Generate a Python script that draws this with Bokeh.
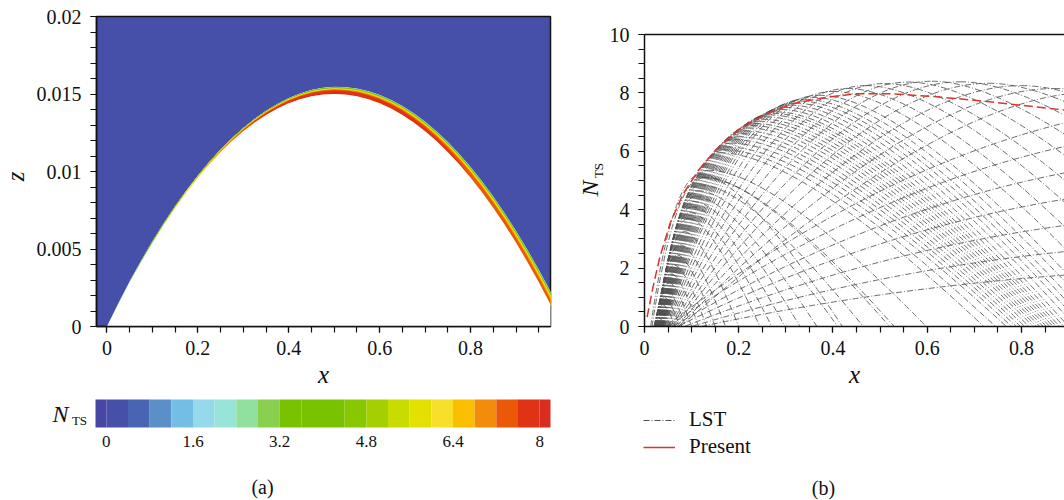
import numpy as np
from bokeh.plotting import figure
from bokeh.layouts import row, column
from bokeh.models import (Range1d, FixedTicker, NumeralTickFormatter, Label,
                          Legend, LegendItem, LinearAxis)
from bokeh.core.properties import value
from bokeh.embed import file_html
from bokeh.resources import INLINE

FONT = "Liberation Serif"

# ---------------- panel (a): N_TS contour above the surface ----------------
surf_x = [0.0, 0.025, 0.05, 0.075, 0.1, 0.125, 0.15, 0.175, 0.2, 0.225, 0.25,
          0.275, 0.3, 0.325, 0.35, 0.375, 0.4, 0.425, 0.45, 0.475, 0.5, 0.525,
          0.55, 0.575, 0.6, 0.625, 0.65, 0.675, 0.7, 0.725, 0.75, 0.775, 0.8,
          0.825, 0.85, 0.875, 0.9, 0.925, 0.95, 0.975, 1.0]
surf_z = [0.0, 0.00146, 0.00285, 0.00416, 0.0054, 0.00656, 0.00765, 0.00866,
          0.0096, 0.01046, 0.01125, 0.01196, 0.0126, 0.01316, 0.01365, 0.01406,
          0.0144, 0.01466, 0.01485, 0.01496, 0.015, 0.01496, 0.01485, 0.01466,
          0.0144, 0.01406, 0.01365, 0.01316, 0.0126, 0.01196, 0.01125, 0.01046,
          0.0096, 0.00866, 0.00765, 0.00656, 0.0054, 0.00416, 0.00285, 0.00146, 0.0]
wall_n = [0.0, 1.8, 3.3, 4.2, 4.85, 5.4, 5.9, 6.3, 6.65, 6.9, 7.15, 7.35, 7.55,
          7.7, 7.8, 7.85, 7.9, 7.95, 8.0, 8.02, 8.02, 8.02, 8.0, 7.95, 7.9, 7.86,
          7.82, 7.78, 7.74, 7.7, 7.66, 7.62, 7.58, 7.54, 7.5, 7.46, 7.42, 7.38,
          7.34, 7.3, 7.26]
layer_dz = [0.00002, 0.00004, 0.00006, 0.00008, 0.0001, 0.00011, 0.00012, 0.00013,
            0.00014, 0.00016, 0.00018, 0.0002, 0.00022, 0.00025, 0.00028, 0.00031,
            0.00035, 0.00039, 0.00043, 0.00046, 0.00048, 0.0005, 0.00052, 0.00054,
            0.00056, 0.00058, 0.0006, 0.00062, 0.00064, 0.00066, 0.00068, 0.0007,
            0.00072, 0.00074, 0.00076, 0.00078, 0.0008, 0.00082, 0.00085, 0.00088, 0.0009]

levels = [0.0, 0.4, 0.8, 1.2, 1.6, 2.0, 2.4, 2.8, 3.2, 3.6, 4.0, 4.4, 4.8, 5.2,
          5.6, 6.0, 6.4, 6.8, 7.2, 7.6, 8.0]
band_colors = ["#4646A3", "#4650A8", "#4865B3", "#5A8FC8", "#72BFE3", "#95D9EA",
               "#97E5D8", "#90E0A0", "#88D04E", "#78C200", "#78C200", "#78C200",
               "#88C800", "#A4D000", "#C8DC00", "#E4E000", "#F8E02A", "#FAC000",
               "#F28C0A", "#EA5808", "#E03214", "#D82D20"]
cbar_ticks = [0, 1.6, 3.2, 4.8, 6.4, 8]
cbar_labels = ["0", "1.6", "3.2", "4.8", "6.4", "8"]

# ---------------- panel (b): N factor curves ----------------
present_x = [0.0055, 0.018, 0.0325, 0.054, 0.082, 0.114, 0.153, 0.202, 0.259,
             0.315, 0.386, 0.45, 0.52, 0.612, 0.718, 0.803, 0.888, 0.95]
present_n = [0.32, 1.35, 2.37, 3.52, 4.54, 5.34, 6.08, 6.77, 7.28, 7.63, 7.85,
             7.97, 7.97, 7.88, 7.72, 7.57, 7.42, 7.32]

lst_start = [0.020, 0.020, 0.021, 0.021, 0.022, 0.022, 0.023, 0.023, 0.024, 0.024,
             0.025, 0.026, 0.0265, 0.027, 0.0275, 0.028, 0.0285, 0.029, 0.0295,
             0.030, 0.013, 0.016,
             0.030, 0.0305, 0.031, 0.0315, 0.032, 0.0325, 0.033, 0.0335, 0.034,
             0.0345, 0.035, 0.0355, 0.036, 0.0365, 0.037, 0.0375, 0.038, 0.0385,
             0.039, 0.0395, 0.040, 0.041, 0.042, 0.043, 0.044, 0.046, 0.048, 0.050,
             0.052, 0.055, 0.058, 0.061, 0.064, 0.068, 0.072, 0.076]
lst_peak_x = [0.031, 0.035, 0.039, 0.043, 0.048, 0.053, 0.058, 0.064, 0.070, 0.076,
              0.085, 0.093, 0.097, 0.100, 0.104, 0.108, 0.113, 0.118, 0.126,
              0.135, 0.118, 0.124,
              0.160, 0.168, 0.175, 0.183, 0.190, 0.198, 0.205, 0.213, 0.220,
              0.228, 0.235, 0.243, 0.250, 0.258, 0.265, 0.273, 0.280, 0.290,
              0.300, 0.310, 0.320, 0.330, 0.340, 0.355, 0.370, 0.400, 0.430, 0.470,
              0.510, 0.560, 0.610, 0.670, 0.730, 0.800, 0.870, 0.950]
lst_peak_n = [0.28, 0.50, 0.75, 1.0, 1.25, 1.5, 1.8, 2.1, 2.45, 2.8,
              3.25, 3.7, 3.9, 4.1, 4.28, 4.45, 4.65, 4.85, 5.1,
              5.35, 5.2, 5.12,
              5.95, 6.05, 6.15, 6.28, 6.40, 6.50, 6.60, 6.70, 6.80,
              6.88, 6.95, 7.03, 7.10, 7.18, 7.25, 7.30, 7.35, 7.43,
              7.50, 7.58, 7.65, 7.72, 7.78, 7.85, 7.92, 8.05, 8.15, 8.25,
              8.32, 8.37, 8.40, 8.38, 8.33, 8.25, 8.15, 8.02]
lst_end = [0.048, 0.056, 0.065, 0.075, 0.087, 0.100, 0.115, 0.132, 0.150, 0.172,
           0.200, 0.245, 0.270, 0.298, 0.330, 0.366, 0.410, 0.464, 0.530,
           0.598, 0.42, 0.52,
           0.720, 0.745, 0.768, 0.779, 0.789, 0.798, 0.807, 0.816, 0.825,
           0.832, 0.839, 0.846, 0.853, 0.860, 0.867, 0.874, 0.881, 0.890,
           0.900, 0.915, 0.930, 0.945, 0.960, 0.980, 1.00, 1.05, 1.10, 1.16,
           1.22, 1.30, 1.38, 1.47, 1.56, 1.66, 1.76, 1.88]

riser_start = [0.045, 0.050, 0.060, 0.070, 0.085, 0.100, 0.120]
riser_peak_x = [1.3, 1.3, 1.3, 1.3, 1.3, 1.3, 1.3]
riser_peak_n = [7.8, 6.9, 5.9, 4.9, 3.9, 2.9, 2.0]

INK = "#111111"
TOP_H = 396          # height of the two plot rows
STRIP_H = 500 - TOP_H


def style_axes(p, size="20px"):
    for ax in p.axis:
        ax.axis_line_width = 1.5
        ax.axis_line_color = INK
        ax.major_tick_line_color = INK
        ax.minor_tick_line_color = INK
        ax.major_tick_line_width = 1.2
        ax.minor_tick_line_width = 1.2
        ax.major_tick_in = 0
        ax.major_tick_out = 6
        ax.minor_tick_in = 0
        ax.minor_tick_out = 6
        ax.major_label_text_font = FONT
        ax.major_label_text_font_size = size
        ax.major_label_text_color = INK
        ax.axis_label_text_font = FONT
        ax.axis_label_text_font_size = "25px"
        ax.axis_label_text_font_style = "italic"
        ax.axis_label_text_color = INK
    p.xaxis.major_label_standoff = 8
    p.yaxis.major_label_standoff = 9
    p.xaxis.axis_label_standoff = 3
    p.xgrid.visible = False
    p.ygrid.visible = False


def add_label(p, x, y, text, size="20px", style="normal"):
    p.add_layout(Label(x=x, y=y, x_units="screen", y_units="screen", text=text,
                       text_font=FONT, text_font_size=size, text_font_style=style,
                       text_align="center", text_baseline="middle",
                       text_color=INK))


def blank_fig(w, h, xr=(0, 1), yr=(0, 1)):
    f = figure(width=w, height=h, x_range=Range1d(*xr), y_range=Range1d(*yr),
               output_backend="svg", toolbar_location=None, title=None,
               x_axis_location=None, y_axis_location=None, min_border=0)
    f.outline_line_color = None
    f.grid.visible = False
    return f


def rotated_text(p, x, y, text, size, style="normal"):
    p.text(x=[x], y=[y], text=[text], angle=np.pi / 2, text_font=value(FONT),
           text_font_size=size, text_font_style=style, text_align="center",
           text_baseline="middle", text_color=INK)


# ---- label strip left of panel (a); its frame is aligned with the plot frame
LAB_A_W = 30
lab_a = blank_fig(LAB_A_W, TOP_H, xr=(0, LAB_A_W), yr=(326, 16))
rotated_text(lab_a, 15, 176, "z", "25px", "italic")

# ---- panel (a)
pa = figure(width=555 - LAB_A_W, height=TOP_H, x_range=Range1d(-0.0229, 0.9758),
            y_range=Range1d(0, 0.02), output_backend="svg", toolbar_location=None,
            title=None, min_border_left=96 - LAB_A_W, min_border_right=5,
            min_border_top=16, min_border_bottom=TOP_H - 326)
pa.background_fill_color = band_colors[1]
pa.outline_line_color = INK
pa.outline_line_width = 1.5

sz = np.array(surf_z)
nw = np.array(wall_n)
dz = np.array(layer_dz)
for k in range(1, len(levels)):
    frac = np.where(nw > levels[k], 1.0 - levels[k] / np.maximum(nw, 1e-9), 0.0)
    top = sz + dz * np.clip(frac, 0, 1) ** 0.25
    pa.varea(x=surf_x, y1=surf_z, y2=top, fill_color=band_colors[k + 1])
pa.varea(x=surf_x, y1=[0.0] * len(surf_x), y2=surf_z, fill_color="white")

pa.xaxis.ticker = FixedTicker(ticks=[0, 0.2, 0.4, 0.6, 0.8],
                              minor_ticks=[0.05 * i for i in range(20)])
pa.xaxis.formatter = NumeralTickFormatter(format="0.[0]")
pa.yaxis.ticker = FixedTicker(ticks=[0, 0.005, 0.01, 0.015, 0.02],
                              minor_ticks=[0.001 * i for i in range(21)])
pa.yaxis.formatter = NumeralTickFormatter(format="0.[000]")
style_axes(pa)
pa.xaxis.axis_label = "x"

# ---- colour bar strip (bar, N_TS, (a))
span = 8.4 / 455.0
pc = blank_fig(555, STRIP_H, xr=(-0.2 - 95 * span, 8.2 + 5 * span), yr=(STRIP_H, 0))
cb_left = [-0.2] + levels
cb_right = levels + [8.2]
pc.quad(left=cb_left, right=cb_right, bottom=31, top=3, fill_color=band_colors,
        line_color=None)
pc.text(x=cbar_ticks, y=[45] * len(cbar_ticks), text=cbar_labels,
        text_font=value(FONT), text_font_size="17px", text_align="center",
        text_baseline="middle", text_color=INK)
add_label(pc, 60, STRIP_H - 17, "N", size="24px", style="italic")
add_label(pc, 79, STRIP_H - 24, "TS", size="13px")
add_label(pc, 262, STRIP_H - 90, "(a)", size="20px")

# ---- label strip left of panel (b); frame aligned with the plot frame
lab_b = blank_fig(50, TOP_H, xr=(0, 50), yr=(326, 34))
rotated_text(lab_b, 34, 188, "N", "24px", "italic")
rotated_text(lab_b, 43, 170, "TS", "13px")

# ---- panel (b)
pb = figure(width=459, height=TOP_H, x_range=Range1d(0, 0.8913), y_range=Range1d(0, 10),
            output_backend="svg", toolbar_location=None, title=None,
            min_border_left=39, min_border_right=0, min_border_top=34,
            min_border_bottom=TOP_H - 326)
pb.outline_line_color = None

LST_COLOR = "#505050"
LST_DASH = "6 2 1 2"
LST_W = 0.85
xs = np.array(lst_start)
xp = np.array(lst_peak_x)
npk = np.array(lst_peak_n)
xe = np.array(lst_end)
kr = np.clip(0.45 + 0.25 * (xp - 0.16), 0.45, 0.65)
pb.quadratic(x0=xs, y0=np.zeros_like(xs), x1=xp, y1=npk, cx=xs + kr * (xp - xs),
             cy=npk, line_color=LST_COLOR, line_width=LST_W, line_dash=LST_DASH)
pb.quadratic(x0=xp, y0=npk, x1=xe, y1=np.zeros_like(xe), cx=xp + 0.3 * (xe - xp),
             cy=npk, line_color=LST_COLOR, line_width=LST_W, line_dash=LST_DASH)
rs = np.array(riser_start)
rp = np.array(riser_peak_x)
rn = np.array(riser_peak_n)
pb.quadratic(x0=rs, y0=np.zeros_like(rs), x1=rp, y1=rn, cx=rs + 0.5 * (rp - rs),
             cy=rn, line_color=LST_COLOR, line_width=LST_W, line_dash=LST_DASH)

pb.line(present_x, present_n, line_color="#D9352A", line_width=1.5, line_dash="9 4")

bottom_ax = pb.below[0]
bottom_ax.ticker = FixedTicker(ticks=[0, 0.2, 0.4, 0.6, 0.8],
                               minor_ticks=[0.05 * i for i in range(20)])
bottom_ax.formatter = NumeralTickFormatter(format="0.[0]")
pb.yaxis.ticker = FixedTicker(ticks=[0, 2, 4, 6, 8, 10],
                              minor_ticks=[0.5 * i for i in range(21)])
pb.yaxis.formatter = NumeralTickFormatter(format="0")
style_axes(pb)
bottom_ax.axis_label = "x"
top_ax = LinearAxis(ticker=FixedTicker(ticks=[]), major_label_text_font_size="0px",
                    axis_line_width=1.5, axis_line_color=INK, major_tick_out=0,
                    minor_tick_out=0, major_tick_in=0, minor_tick_in=0)
pb.add_layout(top_ax, "above")

# ---- legend strip below panel (b)
pl = blank_fig(509, STRIP_H)
nan2 = [float("nan"), float("nan")]
leg_lst = pl.line(nan2, nan2, line_color=LST_COLOR, line_width=1.0, line_dash=LST_DASH)
leg_pre = pl.line(nan2, nan2, line_color="#D9352A", line_width=1.5)
legend = Legend(items=[LegendItem(label="LST", renderers=[leg_lst]),
                       LegendItem(label="Present", renderers=[leg_pre])],
                location=(88, 41), glyph_width=32, glyph_height=20,
                label_height=20, label_standoff=14, spacing=2, padding=0, margin=0,
                border_line_color=None, background_fill_alpha=0,
                label_text_font=FONT, label_text_font_size="21px",
                label_text_color=INK)
pl.add_layout(legend)
add_label(pl, 268, STRIP_H - 91, "(b)", size="20px")

layout = row(column(row(lab_a, pa), pc), column(row(lab_b, pb), pl))
open("out.html", "w").write(file_html(layout, INLINE))
